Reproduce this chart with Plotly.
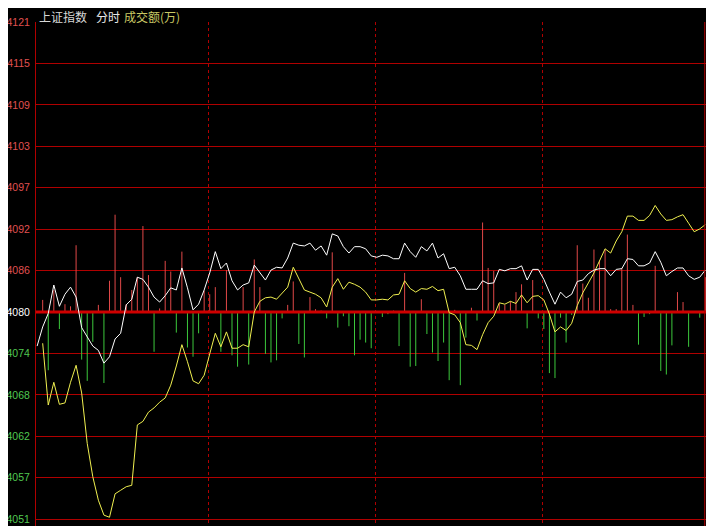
import plotly.graph_objects as go

# ---------------- data ----------------
# sample index (2-minute steps); white index line has an opening point at -1
sample_index = list(range(120))
white_index = list(range(-1, 120))

white_values = [
    4075.2,
    4077.9, 4079.8, 4083.8, 4080.8, 4082.5, 4083.5, 4082.1, 4077.8, 4076.5, 4075.2,
    4074.6, 4072.8, 4073.7, 4076.2, 4077.0, 4081.0, 4081.8, 4084.9, 4084.6, 4083.5,
    4082.1, 4081.4, 4082.3, 4083.4, 4083.1, 4086.2, 4083.4, 4080.3, 4081.1, 4083.1,
    4085.5, 4088.5, 4086.1, 4086.9, 4084.4, 4083.1, 4083.8, 4084.1, 4086.6, 4085.6,
    4084.5, 4085.9, 4086.3, 4086.2, 4087.6, 4089.7, 4089.4, 4089.3, 4089.7, 4088.7,
    4089.3, 4088.0, 4091.0, 4090.7, 4089.2, 4088.3, 4089.2, 4089.2, 4088.9, 4087.9,
    4087.7, 4088.0, 4087.9, 4087.5, 4087.5, 4089.7, 4088.5, 4087.7, 4089.2, 4088.6,
    4089.7, 4087.6, 4088.2, 4086.1, 4086.3, 4085.1, 4083.2, 4083.2, 4083.2, 4084.4,
    4084.0, 4084.1, 4086.0, 4085.8, 4086.1, 4086.1, 4086.5, 4084.5, 4086.0, 4086.0,
    4084.6, 4082.8, 4081.1, 4082.8, 4082.0, 4082.5, 4084.3, 4084.5, 4085.4, 4085.9,
    4086.1, 4086.1, 4085.1, 4086.0, 4086.1, 4087.5, 4087.4, 4086.5, 4086.5, 4086.9,
    4088.5, 4087.0, 4085.1, 4085.7, 4086.2, 4086.2, 4085.1, 4084.6, 4084.9, 4085.9,
]

yellow_values = [
    4075.6, 4066.9, 4070.1, 4067.0, 4067.2, 4070.1, 4072.5, 4068.6, 4061.5, 4056.8,
    4053.5, 4051.4, 4051.1, 4054.4, 4054.9, 4055.4, 4055.6, 4064.1, 4064.6, 4065.9,
    4066.5, 4067.3, 4067.9, 4069.7, 4072.4, 4075.4, 4073.0, 4070.3, 4069.9, 4071.1,
    4074.1, 4077.0, 4075.1, 4077.2, 4074.9, 4074.9, 4075.4, 4075.1, 4080.0, 4081.5,
    4082.0, 4082.1, 4081.8, 4082.7, 4083.5, 4086.3, 4084.8, 4083.1, 4082.8, 4082.5,
    4082.0, 4080.7, 4083.5, 4084.7, 4083.2, 4084.2, 4083.9, 4083.5, 4082.8, 4081.7,
    4081.7, 4081.8, 4081.7, 4082.4, 4082.5, 4084.4, 4083.3, 4082.8, 4083.3, 4083.2,
    4083.6, 4083.0, 4083.2, 4079.9, 4079.6, 4078.5, 4075.4, 4075.3, 4074.7, 4076.8,
    4078.5, 4079.4, 4081.3, 4081.1, 4081.5, 4081.2, 4082.4, 4081.3, 4082.2, 4082.3,
    4081.7, 4079.7, 4077.2, 4077.9, 4077.4, 4078.4, 4080.9, 4082.7, 4084.1, 4085.5,
    4087.2, 4088.9, 4088.3, 4090.0, 4091.3, 4093.5, 4093.5, 4092.9, 4092.9, 4093.6,
    4095.0, 4093.8, 4092.9, 4093.0, 4093.4, 4093.7, 4092.5, 4091.3, 4091.7, 4092.3,
]

# red (+) / green (-) bars measured from the 4080 base line
bar_values = [
    1.7, -8.2, 3.1, -2.4, 1.1, 0.8, 9.4, -6.7, -9.7, -4.2,
    1.0, -10.0, 4.4, 13.7, 4.9, 1.1, 3.1, 4.9, 12.1, 5.2,
    -5.6, 0.5, 7.2, 5.7, -2.9, 8.5, -5.0, -6.3, -3.0, 3.0,
    2.5, 3.5, -5.6, 5.9, -6.1, -7.7, 3.5, -7.4, 7.4, 3.5,
    -5.9, -7.1, -6.8, -0.9, 1.0, 4.3, -4.5, -6.4, 2.1, 0.4,
    0.2, -0.9, 8.4, -2.2, -0.6, -2.0, -6.1, -3.9, -4.3, -5.1,
    0.0, -0.7, -0.3, 0.2, -4.8, 5.5, -7.7, -7.6, 1.8, -3.1,
    -5.7, -6.9, -4.3, -9.6, 0.3, -10.3, -3.6, 0.6, -1.2, 12.6,
    6.2, 5.8, 1.2, 1.0, 1.5, 2.8, 3.9, -2.3, 4.5, -0.9,
    -2.4, -8.6, -9.3, -0.8, -4.3, -0.4, 9.4, 4.0, 2.0, 8.8,
    7.3, 8.8, 0.4, 0.4, 6.2, 10.9, 1.0, -4.6, -0.7, -0.3,
    6.5, -8.3, -8.8, -4.7, 2.8, 1.4, -4.9, 0.0, -0.8, 4.9,
]

base_level = 4080.0
tick_values = [4120.83, 4115.0, 4109.17, 4103.33, 4097.5, 4091.67, 4085.83,
               4080.0, 4074.17, 4068.33, 4062.5, 4056.67, 4050.83]
tick_labels = ["4121", "4115", "4109", "4103", "4097", "4092", "4086",
               "4080", "4074", "4068", "4062", "4057", "4051"]
hour_marks = [29.75, 59.75, 89.75]

# ---------------- styling ----------------
GRID = "#b00000"
RED_TXT = "#e05050"
GREEN_TXT = "#50c850"

colored_ticks = []
for v, lab in zip(tick_values, tick_labels):
    if v > base_level + 0.01:
        c = RED_TXT
    elif v < base_level - 0.01:
        c = GREEN_TXT
    else:
        c = "#ffffff"
    colored_ticks.append(f'<span style="color:{c}">{lab}</span>')

x_min, x_max = -1.2, 120.56
y_min, y_max = 4049.87, 4120.83

red_x, red_y, green_x, green_y = [], [], [], []
for i, b in zip(sample_index, bar_values):
    if b > 0:
        red_x += [i, i, None]
        red_y += [base_level, base_level + b, None]
    elif b < 0:
        green_x += [i, i, None]
        green_y += [base_level, base_level + b, None]

fig = go.Figure()
fig.add_trace(go.Scatter(x=red_x, y=red_y, mode="lines",
                         line=dict(color="#e04848", width=1), hoverinfo="skip"))
fig.add_trace(go.Scatter(x=green_x, y=green_y, mode="lines",
                         line=dict(color="#3cc83c", width=1), hoverinfo="skip"))
fig.add_trace(go.Scatter(x=[x_min, x_max], y=[base_level, base_level], mode="lines",
                         line=dict(color="#d00000", width=3), hoverinfo="skip"))
fig.add_trace(go.Scatter(x=sample_index, y=yellow_values, mode="lines",
                         line=dict(color="#f0f050", width=1)))
fig.add_trace(go.Scatter(x=white_index, y=white_values, mode="lines",
                         line=dict(color="#ffffff", width=1)))

fig.add_shape(type="line", xref="x", yref="paper", x0=118.9, x1=118.9, y0=0, y1=1,
              line=dict(color=GRID, width=1))

# the page body adds an 8px offset, so the figure is 8px smaller and margins 8px tighter
title_y = 1 + 6 / 504
title_font = dict(family="Noto Sans CJK SC", size=12)
fig.update_layout(
    width=706, height=518,
    margin=dict(l=28, r=0, t=14, b=0, autoexpand=False),
    paper_bgcolor="#000000", plot_bgcolor="#000000",
    showlegend=False,
    font=dict(family="Liberation Sans, Arial, sans-serif", size=10, color="#ffffff"),
    xaxis=dict(range=[x_min, x_max], showticklabels=False, ticks="",
               tickvals=hour_marks, showgrid=True, gridcolor=GRID, gridwidth=1,
               griddash="dot", zeroline=False, showline=False, fixedrange=True,
               automargin=False),
    yaxis=dict(range=[y_min, y_max], tickvals=tick_values, ticktext=colored_ticks,
               showgrid=True, gridcolor=GRID, gridwidth=1, zeroline=False,
               showline=True, linecolor=GRID, linewidth=1, ticks="",
               ticklabelstandoff=3, tickfont=dict(size=10.5), fixedrange=True,
               automargin=False),
    annotations=[
        dict(text="上证指数", xref="paper", yref="paper", x=2 / 678, y=title_y,
             xanchor="left", yanchor="middle", showarrow=False, borderpad=0,
             font=dict(title_font, color="#d8d8d8")),
        dict(text="分时", xref="paper", yref="paper", x=59 / 678, y=title_y,
             xanchor="left", yanchor="middle", showarrow=False, borderpad=0,
             font=dict(title_font, color="#e8e8e8")),
        dict(text="成交额(万)", xref="paper", yref="paper", x=87 / 678, y=title_y,
             xanchor="left", yanchor="middle", showarrow=False, borderpad=0,
             font=dict(title_font, color="#c8c864")),
    ],
)

fig.write_html("out.html")
